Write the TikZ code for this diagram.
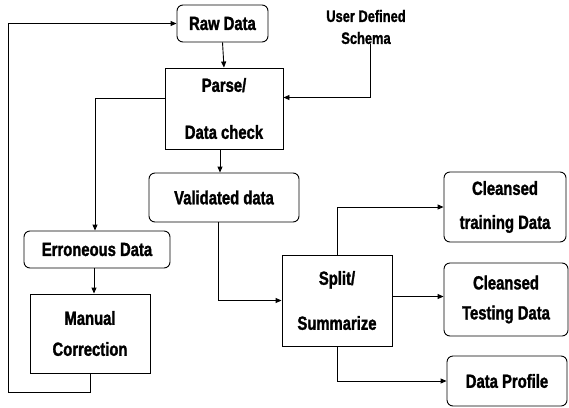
\documentclass[tikz,border=0pt]{standalone}
\usepackage{fontspec}
\setmainfont{Liberation Sans}[FakeStretch=0.78, BoldFeatures={FakeBold=1.5}]
\usepackage{tikz}
\usetikzlibrary{shapes,backgrounds,positioning,arrows.meta}
\usepackage{xcolor}

\begin{document}
\begin{tikzpicture}[x=1pt,y=-1pt,
    every node/.style={font=\fontsize{19}{22}\selectfont\bfseries, align=center, inner sep=0pt},
    box/.style={draw, line width=0.9pt},
    rbox/.style={box, rounded corners=6pt},
    flow/.style={line width=0.9pt, -{Triangle[length=6pt,width=5pt]}},
    line/.style={line width=0.9pt}]
            \def\W{569}
            \def\H{407}
            \useasboundingbox (0,0) rectangle (\W,\H);

            % input side
            \node[rbox, minimum width=91pt, minimum height=37pt] (raw) at (222.5,23.5) {Raw Data};
            \node[box, minimum width=118pt, minimum height=81pt] (parse) at (224,108.5) {Parse/\\[25pt]Data check};
            \node[font=\fontsize{16.5}{22}\selectfont\bfseries] (schema) at (366,27) {User Defined\\Schema};
            \node[rbox, minimum width=150pt, minimum height=49pt] (valid) at (224,197.5) {Validated data};

            % error branch
            \node[rbox, minimum width=146pt, minimum height=37pt] (err) at (97,249.5) {Erroneous Data};
            \node[box, minimum width=120pt, minimum height=79pt] (manual) at (90,333.5) {Manual\\[9pt]Correction};

            % outputs
            \node[box, minimum width=110pt, minimum height=91pt] (split) at (337,300.5) {Split/\\[23pt]Summarize};
            \node[rbox, minimum width=122pt, minimum height=70pt] (train) at (505,207) {Cleansed\\[12pt]training Data};
            \node[rbox, minimum width=124pt, minimum height=73pt] (test) at (506,299.5) {Cleansed\\[8pt]Testing Data};
            \node[rbox, minimum width=120pt, minimum height=50pt] (profile) at (507,381) {Data Profile};
            \coordinate (loop) at (8,392);

            \draw[flow] (raw.south) -- (parse.north);
            \draw[flow] ([xshift=4pt]schema.south) |- ([yshift=11pt]parse.east);
            \draw[flow] ([xshift=-4pt]parse.south) -- ([xshift=-4pt]parse.south |- valid.north);
            \draw[flow] ([yshift=10pt]parse.west) -| ([xshift=-2pt]err.north);
            \draw[flow] ([xshift=-3pt]err.south) -- ([xshift=-3pt]err.south |- manual.north);
            \draw[flow] (manual.south) |- (loop) |- (raw.west);
            \draw[flow] ([xshift=-6pt]valid.south) |- (split.west);
            \draw[flow] (split.north) |- (train.west);
            \draw[flow] ([yshift=4pt]split.east) -- ([yshift=4pt]split.east -| test.west);
            \draw[flow] (split.south) |- (profile.west);
        \end{tikzpicture}
\end{document}
